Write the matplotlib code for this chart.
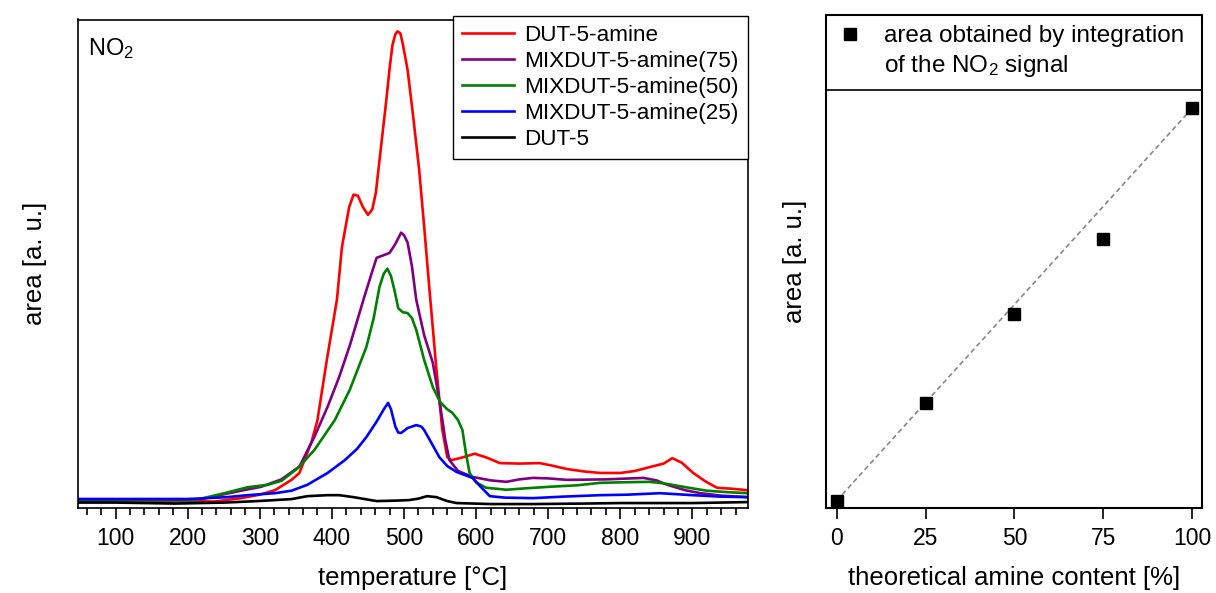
import matplotlib
matplotlib.use("Agg")
import matplotlib.pyplot as plt
from matplotlib.ticker import MultipleLocator

plt.rcParams['font.family'] = ['Liberation Sans', 'DejaVu Sans']
plt.rcParams['mathtext.default'] = 'regular'

# ---- NO2 evolution vs temperature (arbitrary units) ----
red_T = [48, 100, 150, 200, 237, 274, 300, 321, 344, 355, 362, 372, 380, 393, 407, 414,
         424, 430, 436, 443, 450, 456, 461, 468, 475, 480, 484, 488, 491, 495, 498, 505, 513,
         521, 528, 535, 545, 553, 560, 566, 580, 598, 615, 633, 660, 688, 705, 726, 750,
         772, 800, 820, 841, 860, 872, 885, 901, 918, 934, 955, 977]
red_V = [1.4, 1.4, 1.3, 1.4, 1.3, 2.0, 2.7, 3.6, 5.7, 7.1, 9.7, 13.5, 17.8, 30, 42.2, 52.9,
         61, 63.5, 63.3, 61, 59.4, 60.5, 63.9, 73, 82, 89, 93.8, 96, 96.6, 96.2, 94.3, 88.8, 79,
         68.6, 57, 44.8, 28, 16, 10.3, 9.7, 10.2, 11, 10.2, 9.1, 9.0, 9.1, 8.6, 7.9, 7.4,
         7.1, 7.1, 7.5, 8.3, 9.0, 10.1, 9.2, 7.1, 5.4, 4.1, 3.9, 3.6]

purple_T = [48, 100, 150, 219, 251, 274, 302, 330, 355, 376, 394, 410, 425, 445, 455, 462,
            473, 480, 488, 496, 500, 505, 511, 517, 528, 540, 550, 557, 563, 575, 595, 620,
            642, 660, 679, 700, 726, 780, 832, 850, 865, 890, 911, 940, 977]
purple_V = [1.8, 1.8, 1.8, 1.8, 2.8, 3.5, 4.3, 5.8, 8.4, 14.5, 20.5, 26.5, 33, 42.8, 47.5, 50.7,
            51.3, 51.7, 53.5, 55.8, 55.3, 53.8, 49, 42.2, 35, 29.4, 21, 14, 9.7, 7.5, 6.3, 5.6,
            5.3, 5.8, 6.1, 6.0, 5.7, 5.8, 6.1, 5.6, 4.7, 3.6, 3.0, 2.5, 2.2]

green_T = [48, 100, 150, 210, 251, 283, 311, 330, 353, 376, 404, 425, 448, 458, 466, 472,
           477, 482, 487, 492, 498, 505, 511, 517, 528, 540, 550, 560, 567, 575, 581, 586,
           591, 600, 614, 642, 670, 702, 740, 772, 800, 841, 860, 887, 920, 950, 977]
green_V = [1.6, 1.6, 1.6, 1.6, 3.0, 4.2, 4.7, 5.5, 8.1, 11.8, 17.8, 24, 32.7, 38.5, 44.8, 47.5,
           48.5, 47, 44, 40.5, 39.7, 39.5, 38.5, 36.1, 30, 24.5, 21.5, 20, 19.3, 17.8, 15.8, 11,
           7.1, 5.2, 4.1, 3.7, 4.0, 4.3, 4.6, 5.1, 5.2, 5.3, 5.0, 4.3, 3.5, 3.2, 3.0]

blue_T = [48, 100, 150, 200, 255, 283, 321, 344, 366, 394, 418, 435, 448, 462, 472, 478,
          482, 488, 492, 496, 505, 517, 524, 528, 538, 549, 560, 573, 595, 605, 619, 640,
          679, 720, 772, 810, 855, 900, 940, 977]
blue_V = [1.8, 1.8, 1.8, 1.8, 2.2, 2.6, 3.0, 3.5, 4.7, 7.1, 9.7, 12, 14.4, 17.5, 20, 21.3,
          20, 16.5, 15.3, 15.2, 16.2, 16.8, 16.5, 15.8, 13.2, 10.3, 8.5, 7.3, 6.1, 4.5, 2.4, 2.1,
          2.0, 2.3, 2.6, 2.7, 3.0, 2.6, 2.3, 2.2]

black_T = [48, 100, 182, 251, 297, 344, 366, 394, 410, 430, 462, 490, 507, 520, 532, 545,
           560, 573, 620, 679, 750, 800, 900, 977]
black_V = [1.1, 1.1, 0.9, 1.1, 1.4, 1.8, 2.4, 2.6, 2.6, 2.2, 1.4, 1.5, 1.6, 1.9, 2.4, 2.2,
           1.4, 1.0, 0.8, 0.8, 0.9, 1.0, 1.0, 1.2]

series = [
    ("DUT-5-amine", red_T, red_V, "#ff0000"),
    ("MIXDUT-5-amine(75)", purple_T, purple_V, "#800080"),
    ("MIXDUT-5-amine(50)", green_T, green_V, "#008000"),
    ("MIXDUT-5-amine(25)", blue_T, blue_V, "#0000ff"),
    ("DUT-5", black_T, black_V, "#000000"),
]

# ---- integrated NO2 area vs amine content ----
amine_content = [0, 25, 50, 75, 100]
area_norm = [0.0, 0.248, 0.476, 0.666, 1.0]

fig = plt.figure(figsize=(12.16, 5.93), dpi=100)

ax1 = fig.add_axes([78 / 1216, 1 - 508 / 593, 670 / 1216, 488.5 / 593])
for label, T, V, c in series:
    ax1.plot(T, V, color=c, lw=1.9, label=label, solid_joinstyle='round')
ax1.set_xlim(48, 977)
ax1.set_ylim(0, 99)
ax1.set_yticks([])
ax1.xaxis.set_major_locator(MultipleLocator(100))
ax1.xaxis.set_minor_locator(MultipleLocator(20))
ax1.set_xticks([100, 200, 300, 400, 500, 600, 700, 800, 900])
ax1.tick_params(axis='x', which='major', direction='out', length=8, width=1.2,
                labelsize=16.5, pad=6)
ax1.tick_params(axis='x', which='minor', direction='out', length=5, width=1.2)
for s in ax1.spines.values():
    s.set_linewidth(1.2)
ax1.set_xlabel("temperature [°C]", fontsize=18.5, labelpad=11)
ax1.set_ylabel("area [a. u.]", fontsize=18.5, labelpad=22)
ax1.text(0.015, 0.965, "NO$_2$", transform=ax1.transAxes, fontsize=17,
         ha='left', va='top')
leg1 = ax1.legend(loc='upper right', bbox_to_anchor=(1.0, 1.008), borderaxespad=0,
                  fontsize=16.2, fancybox=False, edgecolor='black', framealpha=1,
                  handlelength=2.3, handletextpad=0.45, labelspacing=0.22,
                  borderpad=0.42)
leg1.get_frame().set_linewidth(1.0)

ax2 = fig.add_axes([826 / 1216, 1 - 508 / 593, 376 / 1216, 493 / 593])
ax2.plot([amine_content[0], amine_content[-1]], [area_norm[0], area_norm[-1]],
         ls=(0, (3, 2)), color='#888888', lw=1.2, zorder=1)
ax2.plot(amine_content, area_norm, ls='none', marker='s', ms=8, color='black',
         zorder=2)
ax2.set_xlim(-3, 102.8)
ax2.set_ylim(-0.0186, 1.238)
ax2.set_yticks([])
ax2.set_xticks(amine_content)
ax2.tick_params(axis='x', direction='out', length=8, width=1.2, labelsize=16.5, pad=6)
for s in ax2.spines.values():
    s.set_linewidth(1.5)

# key box in the top band of the right panel
ax2.plot([0, 1], [0.848, 0.848], transform=ax2.transAxes, color='black', lw=1.2)
ax2.plot([0.064], [0.9615], transform=ax2.transAxes, ls='none', marker='s', ms=8,
         color='black', clip_on=False)
ax2.text(0.154, 0.925, "area obtained by integration\nof the NO$_2$ signal",
         transform=ax2.transAxes, fontsize=17.5, ha='left', va='center',
         linespacing=1.32)

ax2.set_xlabel("theoretical amine content [%]", fontsize=18.5, labelpad=11)
ax2.set_ylabel("area [a. u.]", fontsize=18.5, labelpad=14)

fig.savefig("out.png", dpi=100)
